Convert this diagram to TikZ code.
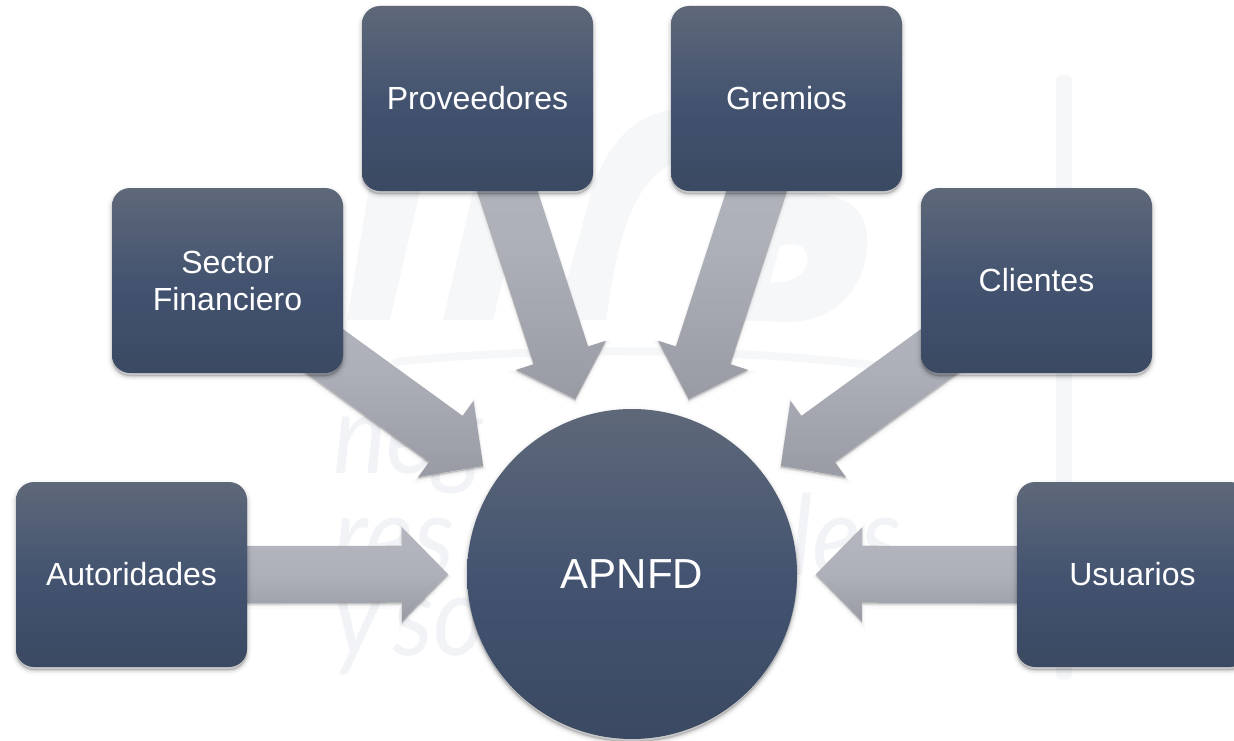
\documentclass[tikz,border=0pt]{standalone}
\usepackage{fontspec}
\setmainfont{Liberation Sans}
\newfontfamily\wmfont{Lato}
\usetikzlibrary{calc,backgrounds,shapes.geometric}
\definecolor{boxtop}{HTML}{5E6879}
\definecolor{boxmid}{HTML}{42526F}
\definecolor{boxbot}{HTML}{3B4962}
\definecolor{arrtop}{HTML}{B4B7BF}
\definecolor{arrmid}{HTML}{ADB0B8}
\definecolor{arrbot}{HTML}{989BA4}
\definecolor{wmark}{HTML}{F1F3F6}
\definecolor{wmbig}{HTML}{F5F7F9}
\pgfdeclareverticalshading{panelshade}{100bp}{
  color(0bp)=(boxbot); color(25bp)=(boxbot); color(48bp)=(boxmid); color(75bp)=(boxtop); color(100bp)=(boxtop)}
\pgfdeclareverticalshading{arrowshade}{100bp}{
  color(0bp)=(arrbot); color(25bp)=(arrbot); color(50bp)=(arrmid); color(75bp)=(arrtop); color(100bp)=(arrtop)}
\tikzset{
  softshadow/.style={
    preaction={draw=black,fill=black,draw opacity=.02,fill opacity=.02,line width=10pt,transform canvas={yshift=-3pt}},
    preaction={draw=black,fill=black,draw opacity=.05,fill opacity=.05,line width=6pt,transform canvas={yshift=-3pt}},
    preaction={draw=black,fill=black,draw opacity=.09,fill opacity=.09,line width=2.5pt,transform canvas={yshift=-3pt}}},
  arrowshadow/.style={
    preaction={draw=black,fill=black,draw opacity=.02,fill opacity=.02,line width=6pt,transform canvas={yshift=-3pt}},
    preaction={draw=black,fill=black,draw opacity=.05,fill opacity=.05,line width=2.5pt,transform canvas={yshift=-2pt}},
    preaction={draw=black,fill=black,draw opacity=.1,fill opacity=.1,line width=.8pt,transform canvas={yshift=-1pt}}},
  stakebox/.style={rectangle,rounded corners=18pt,minimum width=231pt,minimum height=185pt,inner sep=0pt,
    shading=panelshade,softshadow,text=white,align=center,
    font=\fontsize{32}{37}\selectfont},
  hub/.style={circle,minimum size=330pt,inner sep=0pt,
    shading=panelshade,softshadow,text=white,
    font=\fontsize{42}{48}\selectfont},
  blockarrow/.style={shading=arrowshade,arrowshadow},
  wmshape/.style={fill=wmbig,draw=none},
  wmtext/.style={text=wmark,font=\wmfont\itshape\fontsize{112}{112}\selectfont,inner sep=0pt,anchor=base west,xscale=.9}
}
\newcommand{\flowarrow}[1]{%
  \coordinate (tip#1) at ($(apnfd.center)!184pt!(#1.center)$);
  \coordinate (neck#1) at ($(tip#1)!46pt!(#1.center)$);
  \path[blockarrow]
    ($(#1.center)!28.5pt!90:(tip#1)$) --
    ($(neck#1)!28.5pt!90:(tip#1)$) --
    ($(neck#1)!47pt!90:(tip#1)$) --
    (tip#1) --
    ($(neck#1)!47pt!-90:(tip#1)$) --
    ($(neck#1)!28.5pt!-90:(tip#1)$) --
    ($(#1.center)!28.5pt!-90:(tip#1)$) -- cycle;
}
\begin{document}
\begin{tikzpicture}[x=1pt,y=-1pt]
\useasboundingbox (0,0) rectangle (1234,741);
\node[stakebox] (aut) at (131.5,574.5) {Autoridades};
\node[stakebox] (sec) at (227.5,280.5) {Sector\\Financiero};
\node[stakebox] (pro) at (477.5,98.5) {Proveedores};
\node[stakebox] (gre) at (786.5,98.5) {Gremios};
\node[stakebox] (cli) at (1036.5,280.5) {Clientes};
\node[stakebox] (usu) at (1132.5,574.5) {Usuarios};
\node[hub] (apnfd) at (632,574) {APNFD};
\begin{scope}[on background layer]
  % faint watermark
  \fill[wmshape] (347,320) -- (390,320) -- (425,170) -- (372,170) -- cycle;
  \fill[wmshape] (443,320) -- (493,320) -- (530,170) -- (478,170) -- cycle;
  \fill[wmshape] (556,320) -- (606,320) .. controls (618,240) and (630,180) .. (680,160) -- (672,110) .. controls (630,115) and (605,150) .. (592,190) -- cycle;
  \fill[wmshape,even odd rule] (725,320) -- (790,322) .. controls (850,320) and (870,270) .. (867,235) .. controls (865,205) and (840,190) .. (790,195) -- (745,200) -- cycle
     (780,246) .. controls (800,240) and (810,250) .. (807,262) .. controls (805,278) and (785,284) .. (770,282) -- cycle;
  \draw[wmbig,line width=8pt,line cap=round] (396,362) .. controls (520,348) and (720,346) .. (880,366);
  \fill[wmshape,rounded corners=6pt] (1056,75) rectangle (1072,680);
  \node[wmtext] (wma) at (333,473) {neg};
  \node[wmtext] (wmb) at (333,575) {res};
  \node[wmtext] (wmd) at (790,575) {les};
  \node[wmtext] (wmc) at (333,655) {y\hspace{.12em}so};
  % block arrows, tails hidden under the boxes
  \flowarrow{aut}
  \flowarrow{sec}
  \flowarrow{pro}
  \flowarrow{gre}
  \flowarrow{cli}
  \flowarrow{usu}
\end{scope}
\end{tikzpicture}
\end{document}
